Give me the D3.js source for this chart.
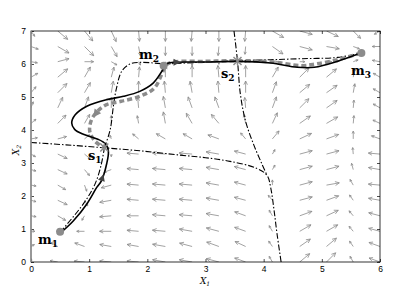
<!DOCTYPE html>
<html lang="en">
<head>
<meta charset="UTF-8">
<script src="https://d3js.org/d3.v7.min.js"></script>
<style>
  body { margin: 0; background: #fff; }
  .tick text { font-family: "Liberation Sans", Arial, sans-serif; font-size: 8.5px; fill: #000; }
  .tick line { stroke: #000; stroke-width: 0.7; }
  .domain { display: none; }
  .lbl { font-family: "DejaVu Serif", "Liberation Serif", serif; font-weight: bold; font-size: 13px; fill: #000; }
</style>
</head>
<body>
<div id="chart"></div>
<script>
// Grid of the vector field (x: 14 columns, y: 16 rows, top row first)
const gridX = [0, 0.46, 0.92, 1.38, 1.85, 2.31, 2.77, 3.23, 3.69, 4.15, 4.62, 5.08, 5.54, 6.0];
const gridY = [7.0, 6.53, 6.07, 5.6, 5.13, 4.67, 4.2, 3.73, 3.27, 2.8, 2.33, 1.87, 1.4, 0.93, 0.47, 0];

// Arrow direction (degrees, 0 = right, 90 = up), one row per gridY
const fieldAngle = [
  [-55, -40, -50, -65, -85, -90, -95, -90, -95, -30, -15, -25, -45, -150],
  [-20, -30, -45, -60, -80, -90, -90, -95, -95, -35, -15, -10, -20, 180],
  [-10, 15, 0, -30, -60, -80, -90, -90, -120, 0, 0, 0, 20, 170],
  [30, 40, 60, 75, 85, 90, 90, 95, 90, 60, 45, 40, 80, 150],
  [50, 45, 60, 80, 90, 95, 100, 95, 90, 70, 40, 35, 80, 150],
  [70, 65, 70, 90, 95, 100, 110, 110, 95, 70, 45, 35, 85, 150],
  [40, 45, 60, 90, 100, 100, 120, 130, 100, 65, 35, 30, 85, 155],
  [10, 15, 40, 110, 140, 150, 150, 160, 130, 50, 25, 20, 90, 160],
  [-30, -25, -40, -90, 175, 175, 175, 170, 165, 60, 15, 15, 95, 175],
  [-15, -25, -50, 200, 175, 175, 175, 170, 165, 60, 15, 15, 105, 170],
  [-10, -30, -70, 195, 175, 175, 175, 170, 165, 90, 15, 10, 120, 175],
  [-15, -25, -60, 190, 175, 175, 175, 170, 165, 130, 15, 20, 125, 170],
  [-10, -30, -120, 185, 180, 175, 175, 170, 160, 120, 20, 25, 130, 165],
  [0, 180, 180, 180, 175, 175, 170, 165, 160, 120, 30, 30, 130, 165],
  [30, 150, 160, 170, 170, 170, 165, 160, 155, 125, 35, 40, 125, 160],
  [90, 170, 175, 175, 175, 170, 170, 165, 160, 120, 40, 45, 120, 160]
];

// Arrow magnitude (relative), same layout as fieldAngle
const fieldMag = [
  [0.5, 1, 1, 0.9, 0.8, 0.8, 0.8, 0.8, 0.8, 1, 1, 1, 0.8, 0.5],
  [0.6, 1, 1, 0.9, 0.7, 0.7, 0.7, 0.7, 0.6, 1, 1, 1, 0.5, 0.6],
  [0.5, 0.9, 0.7, 0.5, 0.3, 0.3, 0.3, 0.2, 0.1, 0.4, 0.4, 0.4, 0.4, 0.6],
  [0.6, 1, 0.9, 0.8, 0.8, 0.9, 0.9, 0.9, 0.9, 0.9, 1, 1, 0.7, 0.6],
  [0.6, 1, 0.9, 0.9, 0.9, 0.9, 0.9, 0.9, 0.9, 0.9, 1, 1, 0.7, 0.6],
  [0.5, 0.9, 0.9, 0.8, 0.8, 0.9, 0.9, 0.9, 0.8, 0.9, 1, 1, 0.6, 0.6],
  [0.5, 0.9, 0.8, 0.6, 0.6, 0.9, 0.9, 0.9, 0.7, 0.9, 1, 1, 0.6, 0.6],
  [0.5, 0.7, 0.5, 0.3, 0.6, 0.8, 0.8, 0.9, 0.6, 0.8, 1, 1, 0.6, 0.7],
  [0.4, 0.8, 0.6, 0.2, 0.9, 1, 1, 1, 0.9, 0.4, 1, 1, 0.5, 0.9],
  [0.4, 0.8, 0.6, 0.6, 0.9, 1, 1, 1, 0.9, 0.4, 1, 1, 0.5, 0.9],
  [0.4, 0.7, 0.5, 0.8, 0.9, 1, 1, 1, 0.9, 0.4, 1, 1, 0.5, 0.9],
  [0.4, 0.8, 0.5, 0.9, 0.9, 1, 1, 1, 0.9, 0.5, 1, 1, 0.5, 0.9],
  [0.4, 0.7, 0.4, 0.9, 0.9, 1, 1, 1, 0.9, 0.5, 1, 1, 0.5, 0.9],
  [0.3, 0.1, 0.6, 0.9, 0.9, 1, 1, 1, 0.9, 0.5, 1, 1, 0.5, 0.9],
  [0.3, 0.6, 0.8, 0.9, 0.9, 1, 1, 1, 0.9, 0.5, 1, 1, 0.5, 0.9],
  [0.3, 0.6, 0.8, 0.9, 0.9, 1, 1, 1, 0.9, 0.5, 1, 1, 0.5, 0.9]
];

// Trajectories
const solidX = [0.5, 0.73, 0.96, 1.13, 1.21, 1.30, 1.33, 1.28, 1.15, 0.90, 0.75, 0.70, 0.76, 0.96, 1.30, 1.59, 1.87, 2.10, 2.25, 2.33, 2.45, 3.0, 3.55, 4.12, 4.58, 4.87, 5.27, 5.67];
const solidY = [0.87, 1.25, 1.76, 2.26, 2.46, 2.97, 3.37, 3.58, 3.72, 3.87, 4.02, 4.21, 4.46, 4.72, 4.92, 5.02, 5.17, 5.42, 5.78, 6.0, 6.05, 6.06, 6.08, 6.03, 5.90, 5.90, 6.08, 6.33];

const dashX = [5.67, 5.27, 4.9, 4.64, 4.12, 3.55, 3.0, 2.45, 2.33, 2.25, 2.12, 1.87, 1.55, 1.30, 1.15, 1.04, 1.01, 1.10, 1.24];
const dashY = [6.33, 6.13, 6.0, 5.95, 6.07, 6.1, 6.08, 6.06, 5.98, 5.70, 5.27, 5.02, 4.87, 4.77, 4.58, 4.31, 3.96, 3.66, 3.48];

// Separatrices and connecting manifolds (dash-dot)
const sepAX = [0, 0.6, 1.26, 1.87, 2.56, 3.0, 3.42, 3.88, 4.06, 4.12, 4.18, 4.23, 4.30];
const sepAY = [3.62, 3.55, 3.46, 3.37, 3.24, 3.16, 3.05, 2.84, 2.62, 2.26, 1.55, 0.85, 0];
const sepBX = [3.49, 3.55, 3.60, 3.69, 3.83, 3.97, 4.06];
const sepBY = [7.0, 6.1, 5.08, 4.26, 3.55, 2.97, 2.62];
const man1X = [0.5, 0.9, 1.10, 1.21, 1.26];
const man1Y = [0.9, 1.76, 2.36, 2.97, 3.46];
const man2X = [1.26, 1.36, 1.42, 1.47, 1.56, 1.70, 1.87, 2.29];
const man2Y = [3.46, 4.0, 4.77, 5.27, 5.78, 6.0, 6.05, 6.0];
const man3X = [2.29, 2.9, 3.55, 4.12, 4.64, 5.27, 5.67];
const man3Y = [6.0, 6.05, 6.1, 6.13, 6.16, 6.2, 6.33];

// Minima and saddles
const minima = [{ name: "m", sub: "1", x: 0.5, y: 0.92 }, { name: "m", sub: "2", x: 2.28, y: 5.95 }, { name: "m", sub: "3", x: 5.68, y: 6.33 }];
const saddles = [{ name: "s", sub: "1", x: 1.26, y: 3.47 }, { name: "s", sub: "2", x: 3.55, y: 6.09 }];

const xTicks = [0, 1, 2, 3, 4, 5, 6];
const yTicks = [0, 1, 2, 3, 4, 5, 6, 7];

// Create chart dimensions
const width = 403;
const height = 302;

const svg = d3.select("#chart")
  .append("svg")
  .attr("width", width)
  .attr("height", height);

svg.append("rect").attr("width", width).attr("height", height).attr("fill", "#fff");

// Create scales
const x = d3.scaleLinear().domain([0, 6]).range([31, 380]);
const y = d3.scaleLinear().domain([0, 7]).range([262, 31]);

svg.append("clipPath").attr("id", "clip")
  .append("rect")
  .attr("x", 31).attr("y", 31).attr("width", 349).attr("height", 231);

const plot = svg.append("g").attr("clip-path", "url(#clip)");

// Draw vector field
const arrows = [];
gridY.forEach((gy, j) => {
  gridX.forEach((gx, i) => {
    arrows.push({ x: gx, y: gy, a: fieldAngle[j][i], m: fieldMag[j][i] });
  });
});

const arrowPath = d => {
  const L = d.m * 13;
  const r = d.a * Math.PI / 180;
  const x0 = x(d.x), y0 = y(d.y);
  const x1 = x0 + L * Math.cos(r), y1 = y0 - L * Math.sin(r);
  const h = Math.max(2.5, 0.35 * L);
  const back = Math.atan2(y0 - y1, x0 - x1);
  const w1 = back + 0.45, w2 = back - 0.45;
  return `M${x0},${y0}L${x1},${y1}` +
    `M${x1 + h * Math.cos(w1)},${y1 + h * Math.sin(w1)}L${x1},${y1}L${x1 + h * Math.cos(w2)},${y1 + h * Math.sin(w2)}`;
};

plot.append("g")
  .selectAll("path")
  .data(arrows)
  .join("path")
  .attr("d", arrowPath)
  .attr("fill", "none")
  .attr("stroke", "#8a8a8a")
  .attr("stroke-width", 0.8);

// Draw curves
const zip = (xs, ys) => xs.map((v, i) => [v, ys[i]]);
const line = d3.line().x(d => x(d[0])).y(d => y(d[1])).curve(d3.curveCatmullRom.alpha(0.5));

[[sepAX, sepAY], [sepBX, sepBY], [man1X, man1Y], [man2X, man2Y], [man3X, man3Y]].forEach(([xs, ys]) => {
  plot.append("path")
    .attr("d", line(zip(xs, ys)))
    .attr("fill", "none")
    .attr("stroke", "#000")
    .attr("stroke-width", 1.1)
    .attr("stroke-dasharray", "6,2,1.5,2");
});

plot.append("path")
  .attr("d", line(zip(dashX, dashY)))
  .attr("fill", "none")
  .attr("stroke", "#8c8c8c")
  .attr("stroke-width", 3.5)
  .attr("stroke-dasharray", "5,3");

plot.append("path")
  .attr("d", line(zip(solidX, solidY)))
  .attr("fill", "none")
  .attr("stroke", "#000")
  .attr("stroke-width", 1.6);

// Arrow heads on trajectories
const headAt = (p, q, size, color) => {
  const x0 = x(p[0]), y0 = y(p[1]);
  const ang = Math.atan2(y(q[1]) - y0, x(q[0]) - x0);
  const tip = [x0 + size * Math.cos(ang), y0 + size * Math.sin(ang)];
  const b1 = [x0 + size * 0.5 * Math.cos(ang + Math.PI / 2), y0 + size * 0.5 * Math.sin(ang + Math.PI / 2)];
  const b2 = [x0 + size * 0.5 * Math.cos(ang - Math.PI / 2), y0 + size * 0.5 * Math.sin(ang - Math.PI / 2)];
  plot.append("path")
    .attr("d", `M${tip}L${b1}L${b2}Z`)
    .attr("fill", color);
};
headAt([solidX[4], solidY[4]], [solidX[5], solidY[5]], 7, "#444");
headAt([solidX[20], solidY[20]], [solidX[21], solidY[21]], 7, "#444");
headAt([dashX[14], dashY[14]], [dashX[15], dashY[15]], 8, "#888");

// Markers
plot.selectAll(".minimum")
  .data(minima)
  .join("circle")
  .attr("class", "minimum")
  .attr("cx", d => x(d.x))
  .attr("cy", d => y(d.y))
  .attr("r", 4)
  .attr("fill", "#8c8c8c");

plot.selectAll(".saddle")
  .data(saddles)
  .join("path")
  .attr("class", "saddle")
  .attr("d", d => {
    const cx = x(d.x), cy = y(d.y), s = 4;
    return `M${cx - s},${cy - s}L${cx + s},${cy + s}M${cx - s},${cy + s}L${cx + s},${cy - s}M${cx},${cy - s}L${cx},${cy + s}`;
  })
  .attr("stroke", "#8c8c8c")
  .attr("stroke-width", 1.5);

// Point labels
const labelPos = { m1: [38, 244], m2: [139, 59], m3: [351, 75], s1: [88, 160], s2: [221, 78] };
[...minima, ...saddles].forEach(d => {
  const p = labelPos[d.name + d.sub];
  const t = svg.append("text").attr("class", "lbl").attr("x", p[0]).attr("y", p[1]);
  t.append("tspan").text(d.name);
  t.append("tspan").attr("dy", 3).attr("font-size", "9px").text(d.sub);
});

// Draw axes
svg.append("g").attr("transform", "translate(0,262)")
  .call(d3.axisBottom(x).tickValues(xTicks).tickSize(-3).tickPadding(4).tickFormat(d3.format("d")));
svg.append("g").attr("transform", "translate(0,31)")
  .call(d3.axisTop(x).tickValues(xTicks).tickSize(-3).tickFormat(""));
svg.append("g").attr("transform", "translate(31,0)")
  .call(d3.axisLeft(y).tickValues(yTicks).tickSize(-3).tickPadding(5).tickFormat(d3.format("d")));
svg.append("g").attr("transform", "translate(380,0)")
  .call(d3.axisRight(y).tickValues(yTicks).tickSize(-3).tickFormat(""));

// Frame
svg.append("rect")
  .attr("x", 31).attr("y", 31).attr("width", 349).attr("height", 231)
  .attr("fill", "none").attr("stroke", "#000").attr("stroke-width", 0.8);
svg.append("line")
  .attr("x1", 31).attr("x2", 31).attr("y1", 31).attr("y2", 262)
  .attr("stroke", "#999").attr("stroke-width", 1.6);

// Axis titles
const xt = svg.append("text")
  .attr("x", 205).attr("y", 284)
  .attr("text-anchor", "middle")
  .attr("font-family", "DejaVu Serif, serif").attr("font-style", "italic").attr("font-size", "9px");
xt.append("tspan").text("X");
xt.append("tspan").attr("dy", 2).attr("font-size", "6px").text("1");

const yt = svg.append("text")
  .attr("transform", "translate(19,150) rotate(-90)")
  .attr("text-anchor", "middle")
  .attr("font-family", "DejaVu Serif, serif").attr("font-style", "italic").attr("font-size", "9px");
yt.append("tspan").text("X");
yt.append("tspan").attr("dy", 2).attr("font-size", "6px").text("2");
</script>
</body>
</html>
